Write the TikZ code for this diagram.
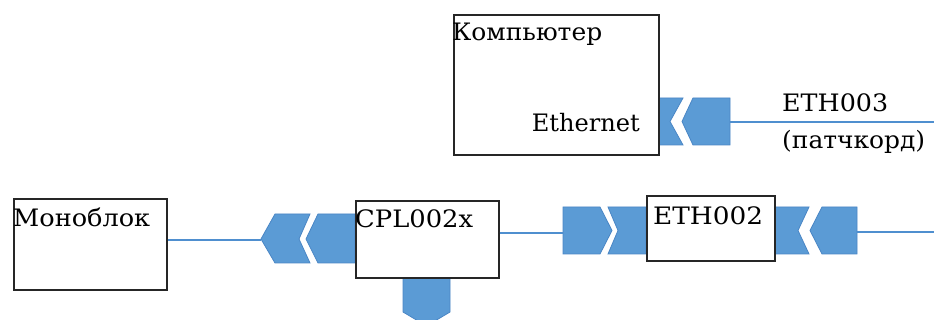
\documentclass[tikz,border=0pt]{standalone}
\usepackage{fontspec}
\setmainfont{DejaVu Serif}
\definecolor{plugfill}{HTML}{5B9BD5}
\definecolor{plugedge}{HTML}{4A86C5}
\definecolor{wire}{HTML}{4F8FCF}
\newcommand{\wlab}[2]{\resizebox{#1pt}{\height}{#2}}
\begin{document}
\begin{tikzpicture}[x=1pt,y=-1pt,
  box/.style={draw=black!85, line width=1.6pt, fill=white, inner sep=0pt, anchor=north west},
  conn/.style={fill=plugfill, draw=plugedge, line width=0.8pt, line join=miter},
  wireline/.style={draw=wire, line width=1.5pt},
  lbl/.style={font=\fontsize{24}{28}\selectfont, inner sep=0pt, text=black}]
\useasboundingbox (0,0) rectangle (934,320);
\clip (0,0) rectangle (934,320);
\fill[white] (0,0) rectangle (934,320);

% connector shapes
\draw[conn] (658,98) -- (683,98) -- (670,121.5) -- (683,145) -- (658,145) -- cycle;
\draw[conn] (682,121.5) -- (693,98) -- (730,98) -- (730,145) -- (693,145) -- cycle;
\coordinate (compOut) at (730,122);
\coordinate (compEnd) at (934,122);

\draw[conn] (261,239) -- (275,214) -- (310,214) -- (299,239) -- (310,263) -- (275,263) -- cycle;
\draw[conn] (306,239) -- (318,214) -- (355,214) -- (355,263) -- (318,263) -- cycle;
\coordinate (cplIn) at (261,240);

\draw[conn] (403,277) -- (450,277) -- (450,312) -- (426.5,326) -- (403,312) -- cycle;

\draw[conn] (563,207) -- (600,207) -- (612,230.5) -- (600,254) -- (563,254) -- cycle;
\draw[conn] (608,207) -- (646,207) -- (646,254) -- (608,254) -- (618,230.5) -- cycle;
\coordinate (ethIn) at (563,233);

\draw[conn] (774,207) -- (809,207) -- (798,230.5) -- (809,254) -- (774,254) -- cycle;
\draw[conn] (810,230.5) -- (822,207) -- (857,207) -- (857,254) -- (822,254) -- cycle;
\coordinate (ethOut) at (857,232);
\coordinate (ethEnd) at (934,232);

% boxes
\node[box, minimum width=205pt, minimum height=140pt] (comp) at (453,14) {};
\node[box, minimum width=153pt, minimum height=91pt] (mono) at (13,198) {};
\node[box, minimum width=143pt, minimum height=77pt] (cpl) at (355,200) {};
\node[box, minimum width=128pt, minimum height=65pt] (eth) at (646,195) {};

% wires
\draw[wireline] (compOut) -- (compEnd);
\draw[wireline] (mono.east |- cplIn) -- (cplIn);
\draw[wireline] (cpl.east |- ethIn) -- (ethIn);
\draw[wireline] (ethOut) -- (ethEnd);

% labels
\node[lbl, anchor=base west] (compT) at (452,41) {\wlab{150}{Компьютер}};
\node[lbl, anchor=base east] (compE) at (640,132) {\wlab{108}{Ethernet}};
\node[lbl, anchor=base west] (eth3a) at (782,112) {\wlab{106}{ETH003}};
\node[lbl, anchor=base west] (eth3b) at (782,149) {\wlab{143}{(патчкорд)}};
\node[lbl, anchor=base west] (monoT) at (13,227) {\wlab{137}{Моноблок}};
\node[lbl, anchor=base west] (cplT) at (355,228) {\wlab{118}{CPL002x}};
\node[lbl, anchor=base west] (ethT) at (653,225) {\wlab{110}{ETH002}};
\end{tikzpicture}
\end{document}
